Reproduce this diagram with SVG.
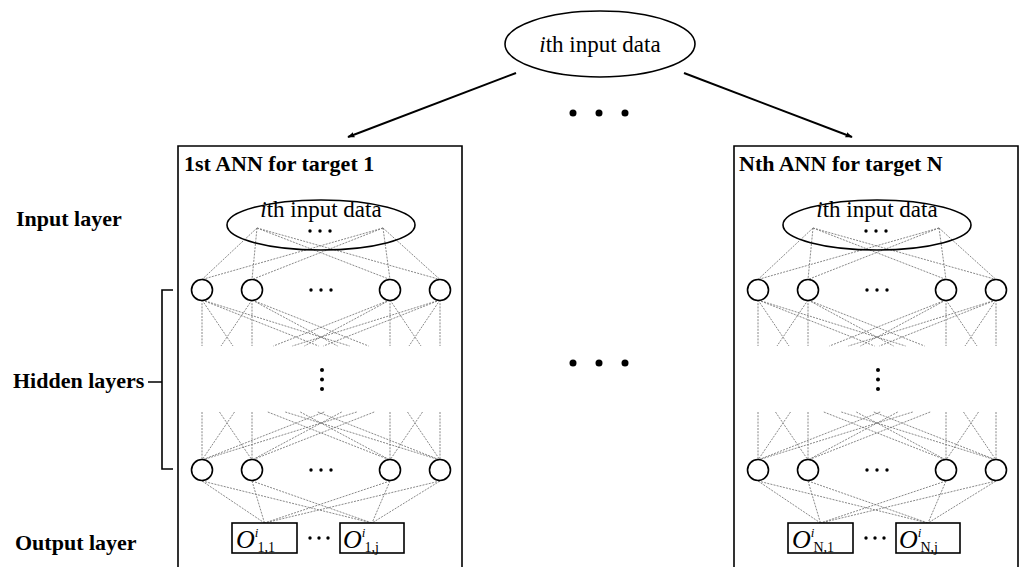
<svg xmlns="http://www.w3.org/2000/svg" width="1022" height="567" viewBox="0 0 1022 567">
<defs>
<style>
text{font-family:"Liberation Serif","Times New Roman",serif;fill:#000}
.lbl{font-size:22px;font-weight:bold}
.dat{font-size:23px}
.node{fill:#fff;stroke:#000;stroke-width:1.6}
.frame{fill:none;stroke:#000;stroke-width:1.6}
.conn{stroke:#7a7a7a;stroke-width:0.9;stroke-dasharray:2 1.2;fill:none}
.arrow{stroke:#000;stroke-width:2;fill:none}
.dot{fill:#000}
.sub{font-size:14px;font-style:normal}
.sup{font-size:13px}
.o{font-size:26px;font-style:italic}
</style>
<marker id="ah" viewBox="0 0 10 10" refX="9" refY="5" markerWidth="7" markerHeight="7" orient="auto" markerUnits="userSpaceOnUse">
<path d="M0,1 L10,5 L0,9 z" fill="#000"/>
</marker>
</defs>
<rect width="1022" height="567" fill="#fff"/>

<!-- side labels -->
<g id="side-labels">
<text class="lbl" x="16" y="226">Input layer</text>
<text class="lbl" x="13" y="388">Hidden layers</text>
<text class="lbl" x="15" y="550">Output layer</text>
<path class="frame" d="M148,382 H162 M173,290 H162 V469 H173" stroke-width="1.5"/>
</g>

<!-- top input node -->
<g id="top-input">
<ellipse class="node" cx="600" cy="44" rx="95" ry="33"/>
<text class="dat" x="600" y="52" text-anchor="middle"><tspan font-style="italic">i</tspan>th input data</text>
</g>

<g id="between-dots">
<circle class="dot" cx="573" cy="113" r="3.5"/>
<circle class="dot" cx="599" cy="113" r="3.5"/>
<circle class="dot" cx="625" cy="113" r="3.5"/>
<circle class="dot" cx="573" cy="363" r="3.5"/>
<circle class="dot" cx="599" cy="363" r="3.5"/>
<circle class="dot" cx="625" cy="363" r="3.5"/>
</g>

<!-- connectors -->
<g id="connectors">
<line class="arrow" x1="516" y1="73" x2="348" y2="137" marker-end="url(#ah)"/>
<line class="arrow" x1="684" y1="73" x2="852" y2="137" marker-end="url(#ah)"/>
<g id="ann1-links">
<!-- input to hidden 1 -->
<path class="conn" d="M257,228 L202,279.5 M257,228 L252,279.5 M257,228 L390,279.5 M257,228 L440,279.5 M383,228 L202,279.5 M383,228 L252,279.5 M383,228 L390,279.5 M383,228 L440,279.5"/>
<!-- hidden 1 outgoing (truncated) -->
<path class="conn" d="M202,300 L202,346 M202,300 L233,346 M202,300 L318.6,346 M202,300 L349.6,346 M252,300 L221,346 M252,300 L252,346 M252,300 L337.6,346 M252,300 L368.6,346 M390,300 L273.4,346 M390,300 L304.4,346 M390,300 L390,346 M390,300 L421,346 M440,300 L292.4,346 M440,300 L323.4,346 M440,300 L409,346 M440,300 L440,346"/>
<!-- incoming to last hidden (truncated) -->
<path class="conn" d="M202,412 L202,460 M234.5,412 L202,460 M324.2,412 L202,460 M356.7,412 L202,460 M219.5,412 L252,460 M252,412 L252,460 M341.7,412 L252,460 M374.2,412 L252,460 M267.8,412 L390,460 M300.3,412 L390,460 M390,412 L390,460 M422.5,412 L390,460 M285.3,412 L440,460 M317.8,412 L440,460 M407.5,412 L440,460 M440,412 L440,460"/>
<!-- last hidden to outputs -->
<path class="conn" d="M202,481 L264.5,523 M252,481 L264.5,523 M390,481 L264.5,523 M440,481 L264.5,523 M202,481 L372,523 M252,481 L372,523 M390,481 L372,523 M440,481 L372,523"/>
</g>
<g id="annN-links" transform="translate(556,0)">
<path class="conn" d="M257,228 L202,279.5 M257,228 L252,279.5 M257,228 L390,279.5 M257,228 L440,279.5 M383,228 L202,279.5 M383,228 L252,279.5 M383,228 L390,279.5 M383,228 L440,279.5"/>
<path class="conn" d="M202,300 L202,346 M202,300 L233,346 M202,300 L318.6,346 M202,300 L349.6,346 M252,300 L221,346 M252,300 L252,346 M252,300 L337.6,346 M252,300 L368.6,346 M390,300 L273.4,346 M390,300 L304.4,346 M390,300 L390,346 M390,300 L421,346 M440,300 L292.4,346 M440,300 L323.4,346 M440,300 L409,346 M440,300 L440,346"/>
<path class="conn" d="M202,412 L202,460 M234.5,412 L202,460 M324.2,412 L202,460 M356.7,412 L202,460 M219.5,412 L252,460 M252,412 L252,460 M341.7,412 L252,460 M374.2,412 L252,460 M267.8,412 L390,460 M300.3,412 L390,460 M390,412 L390,460 M422.5,412 L390,460 M285.3,412 L440,460 M317.8,412 L440,460 M407.5,412 L440,460 M440,412 L440,460"/>
<path class="conn" d="M202,481 L264.5,523 M252,481 L264.5,523 M390,481 L264.5,523 M440,481 L264.5,523 M202,481 L372,523 M252,481 L372,523 M390,481 L372,523 M440,481 L372,523"/>
</g>
</g>

<!-- ANN 1 panel -->
<g id="ann-1">
<g id="ann1-frame">
<path class="frame" d="M178,567 V146 H462 V567"/>
<text class="lbl" x="184" y="171">1st ANN for target 1</text>
</g>
<g id="ann1-input">
<ellipse class="node" cx="321" cy="225" rx="94" ry="25" fill="none" style="fill:none"/>
<text class="dat" x="321" y="217" text-anchor="middle"><tspan font-style="italic">i</tspan>th input data</text>
<circle class="dot" cx="310" cy="231" r="1.7"/><circle class="dot" cx="320" cy="231" r="1.7"/><circle class="dot" cx="330" cy="231" r="1.7"/>
</g>
<g id="ann1-h1">
<circle class="node" cx="202" cy="290" r="10.5"/>
<circle class="node" cx="252" cy="290" r="10.5"/>
<circle class="dot" cx="311" cy="290" r="1.7"/><circle class="dot" cx="321" cy="290" r="1.7"/><circle class="dot" cx="331" cy="290" r="1.7"/>
<circle class="node" cx="390" cy="290" r="10.5"/>
<circle class="node" cx="440" cy="290" r="10.5"/>
</g>
<g id="ann1-vdots">
<circle class="dot" cx="322" cy="370" r="2"/><circle class="dot" cx="322" cy="379.5" r="2"/><circle class="dot" cx="322" cy="389" r="2"/>
</g>
<g id="ann1-hL">
<circle class="node" cx="202" cy="470" r="10.5"/>
<circle class="node" cx="252" cy="470" r="10.5"/>
<circle class="dot" cx="311" cy="470" r="1.7"/><circle class="dot" cx="321" cy="470" r="1.7"/><circle class="dot" cx="331" cy="470" r="1.7"/>
<circle class="node" cx="390" cy="470" r="10.5"/>
<circle class="node" cx="440" cy="470" r="10.5"/>
</g>
<g id="ann1-out1">
<rect class="node" x="232" y="523" width="65" height="30" stroke-width="1.3"/>
<text class="o" x="236" y="548">O<tspan class="sup" dy="-11">i</tspan><tspan class="sub" dx="-1" dy="15">1,1</tspan></text>
</g>
<circle class="dot" cx="310" cy="538" r="1.7"/><circle class="dot" cx="319" cy="538" r="1.7"/><circle class="dot" cx="328" cy="538" r="1.7"/>
<g id="ann1-outj">
<rect class="node" x="340" y="523" width="64" height="30" stroke-width="1.3"/>
<text class="o" x="343" y="548">O<tspan class="sup" dy="-11">i</tspan><tspan class="sub" dx="-1" dy="15">1,j</tspan></text>
</g>
</g>

<!-- ANN N panel -->
<g id="ann-N">
<g id="annN-frame">
<path class="frame" d="M734,567 V146 H1018 V567"/>
<text class="lbl" x="739" y="171">Nth ANN for target N</text>
</g>
<g id="annN-input" transform="translate(556,0)">
<ellipse class="node" cx="321" cy="225" rx="94" ry="25" style="fill:none"/>
<text class="dat" x="321" y="217" text-anchor="middle"><tspan font-style="italic">i</tspan>th input data</text>
<circle class="dot" cx="310" cy="231" r="1.7"/><circle class="dot" cx="320" cy="231" r="1.7"/><circle class="dot" cx="330" cy="231" r="1.7"/>
</g>
<g id="annN-h1" transform="translate(556,0)">
<circle class="node" cx="202" cy="290" r="10.5"/>
<circle class="node" cx="252" cy="290" r="10.5"/>
<circle class="dot" cx="311" cy="290" r="1.7"/><circle class="dot" cx="321" cy="290" r="1.7"/><circle class="dot" cx="331" cy="290" r="1.7"/>
<circle class="node" cx="390" cy="290" r="10.5"/>
<circle class="node" cx="440" cy="290" r="10.5"/>
</g>
<g id="annN-vdots" transform="translate(556,0)">
<circle class="dot" cx="322" cy="370" r="2"/><circle class="dot" cx="322" cy="379.5" r="2"/><circle class="dot" cx="322" cy="389" r="2"/>
</g>
<g id="annN-hL" transform="translate(556,0)">
<circle class="node" cx="202" cy="470" r="10.5"/>
<circle class="node" cx="252" cy="470" r="10.5"/>
<circle class="dot" cx="311" cy="470" r="1.7"/><circle class="dot" cx="321" cy="470" r="1.7"/><circle class="dot" cx="331" cy="470" r="1.7"/>
<circle class="node" cx="390" cy="470" r="10.5"/>
<circle class="node" cx="440" cy="470" r="10.5"/>
</g>
<g id="annN-out1">
<rect class="node" x="788" y="523" width="65" height="30" stroke-width="1.3"/>
<text class="o" x="792" y="548">O<tspan class="sup" dy="-11">i</tspan><tspan class="sub" dx="-1" dy="15">N,1</tspan></text>
</g>
<circle class="dot" cx="866" cy="538" r="1.7"/><circle class="dot" cx="875" cy="538" r="1.7"/><circle class="dot" cx="884" cy="538" r="1.7"/>
<g id="annN-outj">
<rect class="node" x="896" y="523" width="64" height="30" stroke-width="1.3"/>
<text class="o" x="899" y="548">O<tspan class="sup" dy="-11">i</tspan><tspan class="sub" dx="-1" dy="15">N,j</tspan></text>
</g>
</g>
</svg>
